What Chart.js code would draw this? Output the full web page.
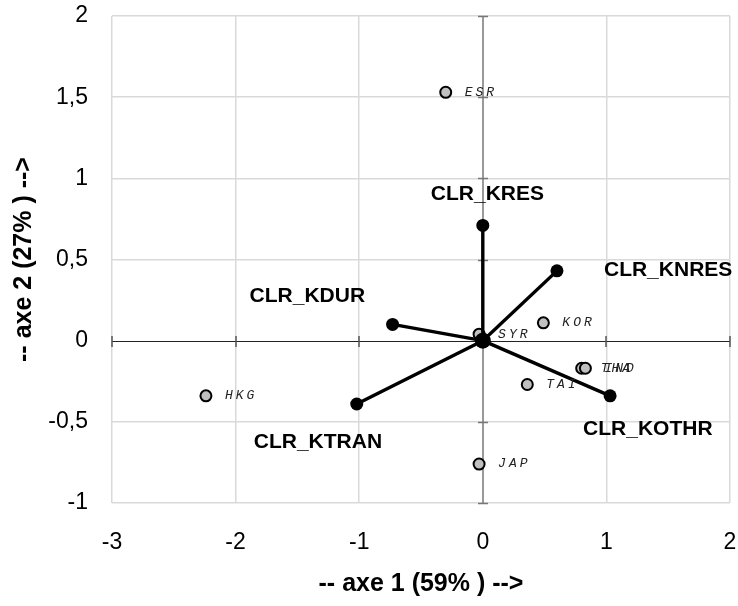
<!DOCTYPE html>
<html>
<head>
<meta charset="utf-8">
<script src="https://cdn.jsdelivr.net/npm/chart.js@4"></script>
<style>
  html, body { margin: 0; padding: 0; background: #fff; }
  #wrap { width: 738px; height: 606px; }
</style>
</head>
<body>
<div id="wrap"><canvas id="c" width="738" height="606"></canvas></div>
<script>
// Observations (gray points) on the first factorial plane
const obsLabels = ["ESR", "SYR", "KOR", "THA", "IND", "TAI", "HKG", "JAP"];
const obsX = [-0.30, -0.03, 0.49, 0.80, 0.83, 0.36, -2.24, -0.03];
const obsY = [1.53, 0.04, 0.11, -0.17, -0.17, -0.27, -0.34, -0.76];

// Variables (black vectors from the origin)
const varLabels = ["CLR_KRES", "CLR_KNRES", "CLR_KDUR", "CLR_KTRAN", "CLR_KOTHR"];
const varX = [0, 0.60, -0.73, -1.02, 1.03];
const varY = [0.71, 0.43, 0.10, -0.39, -0.34];

const xTicks = [-3, -2, -1, 0, 1, 2];
const yTicks = [-1, -0.5, 0, 0.5, 1, 1.5, 2];

// label placement in px: [dx of left edge, dy of middle] relative to the point
const varLabelOffsets = [[-52, -31], [47, -1], [-143, -28], [-103, 38], [-27, 33]];

const fmt = (v) => String(v).replace(".", ",");

const datasets = [];
datasets.push({
  label: "obs",
  data: obsX.map((x, i) => ({ x, y: obsY[i] })),
  pointRadius: 5.5,
  pointBackgroundColor: "#c0c0c0",
  pointBorderColor: "#000",
  pointBorderWidth: 2,
  showLine: false,
  order: 3,
});
varX.forEach((x, i) => {
  datasets.push({
    label: varLabels[i],
    data: [{ x: 0, y: 0 }, { x, y: varY[i] }],
    showLine: true,
    borderColor: "#000",
    borderWidth: 3.4,
    pointRadius: [0, 6.5],
    pointBackgroundColor: "#000",
    pointBorderWidth: 0,
    order: 2,
  });
});
datasets.push({
  label: "origin",
  data: [{ x: 0, y: 0 }],
  pointRadius: 8,
  pointBackgroundColor: "#000",
  pointBorderWidth: 0,
  order: 1,
});

// zero axes with small cross ticks, then text labels
const axesPlugin = {
  id: "axes",
  beforeDatasetsDraw(chart) {
    const { ctx, scales: { x, y } } = chart;
    const x0 = Math.round(x.getPixelForValue(0));
    const y0 = Math.round(y.getPixelForValue(0));
    ctx.save();
    ctx.lineWidth = 1.5;
    ctx.strokeStyle = "#777";
    ctx.beginPath();
    ctx.moveTo(x0, chart.chartArea.top);
    ctx.lineTo(x0, chart.chartArea.bottom);
    ctx.stroke();
    yTicks.forEach((v) => {
      const py = Math.round(y.getPixelForValue(v)) + 0.5;
      ctx.beginPath();
      ctx.moveTo(x0 - 5, py);
      ctx.lineTo(x0 + 5, py);
      ctx.stroke();
    });
    ctx.lineWidth = 1;
    ctx.strokeStyle = "#222";
    ctx.beginPath();
    ctx.moveTo(chart.chartArea.left, y0 + 0.5);
    ctx.lineTo(chart.chartArea.right, y0 + 0.5);
    ctx.stroke();
    ctx.strokeStyle = "#555";
    ctx.lineWidth = 1.5;
    xTicks.forEach((v) => {
      const px = Math.round(x.getPixelForValue(v));
      ctx.beginPath();
      ctx.moveTo(px, y0 - 5);
      ctx.lineTo(px, y0 + 6);
      ctx.stroke();
    });
    ctx.restore();
  },
  afterDatasetsDraw(chart) {
    const { ctx, scales: { x, y } } = chart;
    ctx.save();
    ctx.textBaseline = "middle";
    ctx.textAlign = "left";
    ctx.fillStyle = "#222";
    ctx.font = "italic 13px 'Liberation Mono'";
    ctx.letterSpacing = "3px";
    obsLabels.forEach((lab, i) => {
      ctx.fillText(lab, x.getPixelForValue(obsX[i]) + 19, y.getPixelForValue(obsY[i]));
    });
    ctx.letterSpacing = "0px";
    ctx.fillStyle = "#000";
    ctx.font = "bold 21px 'Liberation Sans'";
    varLabels.forEach((lab, i) => {
      const [dx, dy] = varLabelOffsets[i];
      ctx.fillText(lab, x.getPixelForValue(varX[i]) + dx, y.getPixelForValue(varY[i]) + dy);
    });
    ctx.restore();
  },
};

// keep the plot box where the reference has it: no auto padding from labels
const noPad = (s) => {
  s.paddingLeft = 0; s.paddingRight = 0; s.paddingTop = 0; s.paddingBottom = 0;
};

new Chart(document.getElementById("c"), {
  type: "scatter",
  data: { datasets },
  plugins: [axesPlugin],
  options: {
    responsive: false,
    animation: false,
    layout: { padding: { top: 16, right: 6, left: 0, bottom: 0 } },
    plugins: { legend: { display: false }, tooltip: { enabled: false } },
    scales: {
      x: {
        type: "linear",
        min: -3,
        max: 2,
        afterBuildTicks: (s) => { s.ticks = xTicks.map((v) => ({ value: v })); },
        afterFit: (s) => { s.height = 103; noPad(s); },
        grid: {
          color: (c) => (c.tick && c.tick.value === 0 ? "rgba(0,0,0,0)" : "#d9d9d9"),
          lineWidth: 1.5,
          drawTicks: false,
        },
        border: { display: false },
        ticks: {
          padding: 26,
          color: "#000",
          font: { family: "'Liberation Sans'", size: 23 },
          callback: (v) => fmt(v),
        },
        title: {
          display: true,
          text: "-- axe 1 (59% ) -->",
          color: "#000",
          font: { family: "'Liberation Sans'", size: 25, weight: "bold" },
          padding: { top: 0, bottom: 7 },
        },
      },
      y: {
        type: "linear",
        min: -1,
        max: 2,
        afterBuildTicks: (s) => { s.ticks = yTicks.map((v) => ({ value: v })); },
        afterFit: (s) => { s.width = 112; noPad(s); },
        grid: {
          color: (c) => (c.tick && c.tick.value === 0 ? "rgba(0,0,0,0)" : "#d9d9d9"),
          lineWidth: 1.5,
          drawTicks: false,
        },
        border: { display: false },
        ticks: {
          padding: 24,
          color: "#000",
          font: { family: "'Liberation Sans'", size: 23 },
          callback: (v) => fmt(v),
        },
        title: {
          display: true,
          text: "-- axe 2 (27% ) -->",
          color: "#000",
          font: { family: "'Liberation Sans'", size: 25, weight: "bold" },
          padding: { top: 9, bottom: 0 },
        },
      },
    },
  },
});
</script>
</body>
</html>
